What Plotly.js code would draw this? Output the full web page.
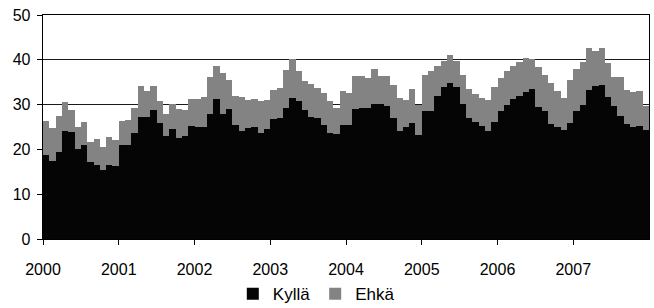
<!DOCTYPE html>
<html>
<head>
<meta charset="utf-8">
<script src="https://cdn.plot.ly/plotly-3.0.1.min.js"></script>
<style>
html,body{margin:0;padding:0;background:#fff;}
#chart{width:654px;height:308px;}
</style>
</head>
<body>
<div id="chart"></div>
<script>
// Years shown on the x axis (monthly data, Jan 2000 - Dec 2007)
var years = [2000, 2001, 2002, 2003, 2004, 2005, 2006, 2007];
var tickLabels = ["2000", "2001", "2002", "2003", "2004", "2005", "2006", "2007"];
var seriesNames = ["Kyllä", "Ehkä"];

// Kyllä (black), monthly values
var kylla = [
  18.8, 17.5, 19.5, 24.1, 23.9, 20.0, 20.9, 17.3, 16.6, 15.5, 16.6, 16.2,
  20.9, 20.9, 23.6, 27.2, 27.3, 28.8, 25.9, 23.0, 24.5, 22.5, 22.9, 25.2,
  25.0, 25.0, 27.9, 31.3, 27.9, 29.0, 25.5, 24.0, 24.8, 25.0, 23.6, 24.5,
  26.7, 27.0, 29.2, 31.4, 30.7, 28.8, 27.2, 27.0, 25.5, 23.6, 23.4, 25.5,
  25.5, 29.0, 29.2, 29.2, 30.2, 30.2, 29.6, 27.0, 24.2, 25.0, 26.0, 23.3,
  28.5, 28.5, 32.0, 33.9, 34.8, 34.0, 30.1, 27.0, 26.2, 25.3, 24.0, 26.2,
  28.5, 30.0, 31.3, 32.0, 32.8, 33.4, 29.5, 28.5, 25.6, 25.0, 24.3, 25.9,
  28.5, 29.9, 33.3, 34.1, 34.3, 31.8, 29.6, 27.5, 25.6, 24.9, 25.3, 24.4
];

// Ehkä (grey, stacked on top), monthly values
var ehka = [
  7.6, 7.3, 7.9, 6.4, 4.9, 5.0, 5.3, 4.3, 5.8, 5.0, 6.1, 5.8,
  5.4, 5.7, 5.7, 6.9, 5.7, 5.3, 4.9, 4.8, 5.6, 6.5, 5.9, 6.0,
  6.3, 6.8, 8.3, 7.3, 9.1, 6.4, 6.5, 7.6, 6.3, 6.2, 7.1, 6.5,
  6.6, 6.6, 8.5, 8.7, 6.8, 6.5, 7.4, 6.6, 7.2, 7.2, 5.8, 7.5,
  7.0, 7.4, 7.2, 6.7, 7.7, 6.1, 6.7, 7.4, 7.2, 6.1, 7.4, 6.6,
  8.1, 9.1, 6.6, 5.9, 6.3, 5.8, 6.4, 6.4, 6.1, 6.1, 7.0, 7.7,
  7.4, 7.4, 7.3, 7.6, 7.5, 6.8, 8.9, 8.0, 9.2, 8.0, 7.2, 9.6,
  9.5, 9.7, 9.3, 7.9, 8.3, 7.4, 6.6, 8.7, 7.6, 7.9, 7.8, 5.4
];

// x position of each monthly bar: centre of the month in fractional years
var xs = kylla.map(function (v, i) { return years[0] + (i + 0.5) / 12; });

var font = {family: "Liberation Sans, Arial, sans-serif", size: 16, color: "#000"};

var traces = [
  {
    type: "bar", name: seriesNames[0], x: xs, y: kylla,
    marker: {color: "#050505", line: {width: 0}},
    hoverinfo: "skip"
  },
  {
    type: "bar", name: seriesNames[1], x: xs, y: ehka,
    marker: {
      color: "#8e8e8e",
      line: {width: 0},
      pattern: {shape: ".", size: 2, solidity: 0.5, fgcolor: "#444", bgcolor: "#b4b4b4", fillmode: "replace"}
    },
    hoverinfo: "skip"
  }
];

var layout = {
  width: 654, height: 308,
  margin: {l: 43, r: 5, t: 15, b: 69, autoexpand: false},
  paper_bgcolor: "#fff", plot_bgcolor: "#fff",
  barmode: "stack", bargap: 0,
  font: font,
  showlegend: true,
  legend: {
    orientation: "h", x: 0.451, xanchor: "center", y: -0.166, yanchor: "top",
    traceorder: "normal",
    font: {family: font.family, size: 17, color: "#000"},
    itemwidth: 30, tracegroupgap: 0, itemclick: false
  },
  xaxis: {
    range: [2000, 2008],
    tickvals: years, ticktext: tickLabels,
    ticks: "outside", ticklen: 5, tickcolor: "#000", tickwidth: 1,
    ticklabelstandoff: 10,
    showline: true, linecolor: "#000", linewidth: 1.3, mirror: true,
    showgrid: false, zeroline: false,
    tickfont: font
  },
  yaxis: {
    range: [0, 50], dtick: 10,
    ticks: "outside", ticklen: 5, tickcolor: "#000", tickwidth: 1,
    ticklabelstandoff: 3,
    showline: true, linecolor: "#000", linewidth: 1.3, mirror: true,
    showgrid: true, gridcolor: "#1a1a1a", gridwidth: 1.3,
    zeroline: false,
    tickfont: font
  }
};

Plotly.newPlot("chart", traces, layout, {displayModeBar: false, staticPlot: true});
</script>
</body>
</html>
